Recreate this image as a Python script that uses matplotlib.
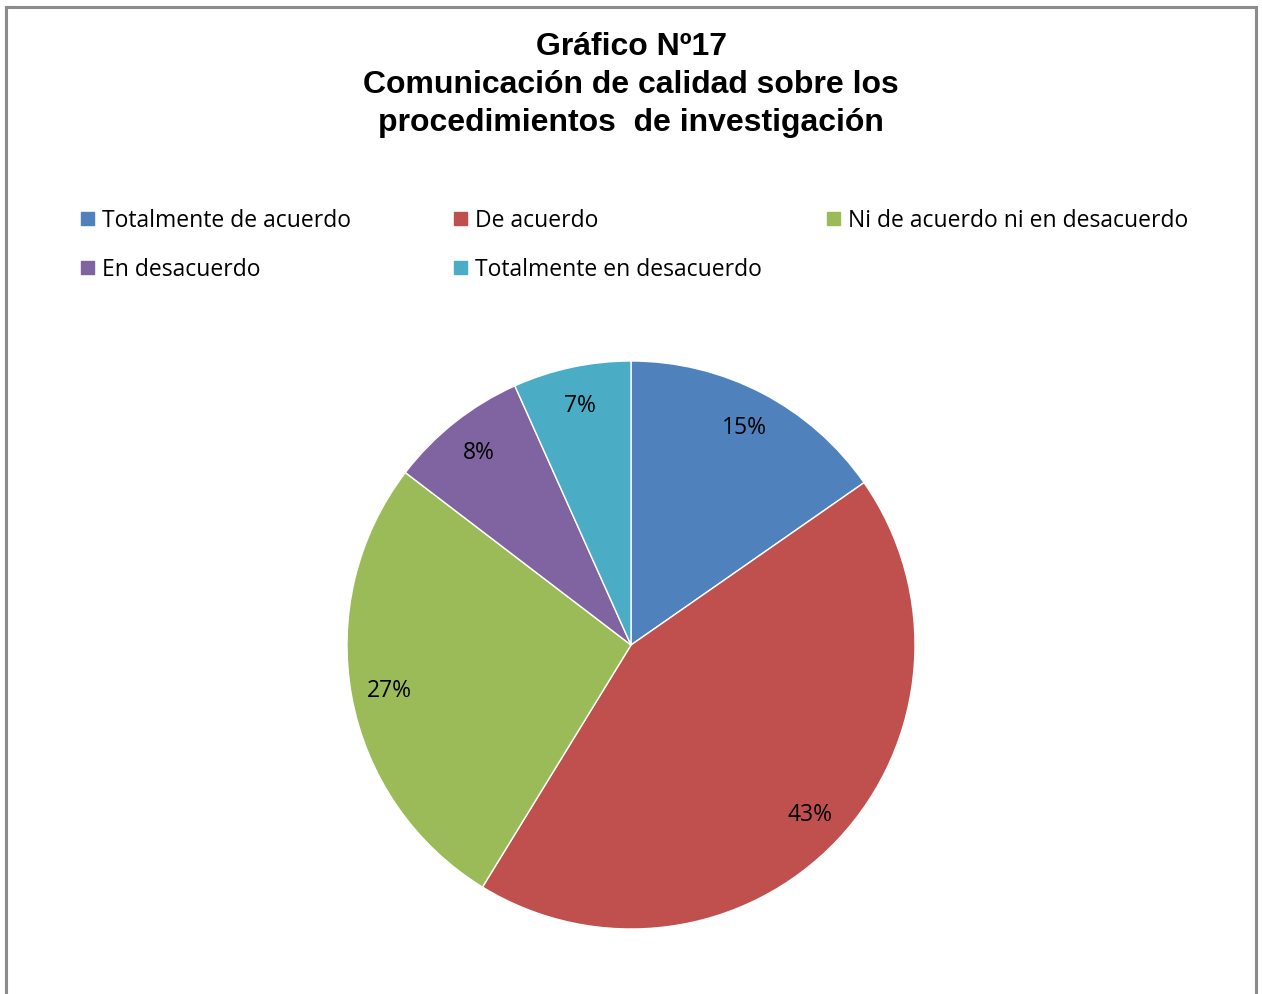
import matplotlib.pyplot as plt
from matplotlib.patches import Rectangle
from matplotlib.lines import Line2D

categories = ['Totalmente de acuerdo', 'De acuerdo', 'Ni de acuerdo ni en desacuerdo',
              'En desacuerdo', 'Totalmente en desacuerdo']
# shares (labels show them rounded)
values = [15.3, 43.4, 26.6, 7.9, 6.7]
colors = ['#4F81BD', '#C0504D', '#9BBB59', '#8064A2', '#4BACC6']
title = 'Gráfico Nº17\nComunicación de calidad sobre los\nprocedimientos  de investigación'

W, H = 1262, 995
fig = plt.figure(figsize=(W / 100, H / 100), dpi=100)

# frame (no bottom edge visible)
for xs, ys in [([6, 6], [0, 987]), ([6, 1256], [987, 987]), ([1256, 1256], [0, 987])]:
    fig.add_artist(Line2D([x / W for x in xs], [y / H for y in ys], color='#8c8c8c', lw=2.2,
                          transform=fig.transFigure))

fig.text(631 / W, 1 - 85 / H, title, ha='center', va='center', fontsize=23,
         fontweight='bold', family='Liberation Sans', linespacing=1.33)

# pie
cx, cy, r = 631, 646, 284
ax = fig.add_axes([(cx - r) / W, (H - cy - r) / H, 2 * r / W, 2 * r / H])
wedges, texts, autotexts = ax.pie(values, colors=colors, startangle=90, counterclock=False,
                                  autopct='%.0f%%', pctdistance=0.865,
                                  wedgeprops=dict(edgecolor='white', linewidth=1),
                                  textprops=dict(fontsize=16.5, family='Open Sans', color='black'))
ax.set_xlim(-1, 1)
ax.set_ylim(-1, 1)
ax.set_aspect('auto')
ax.axis('off')

# legend, row by row
for i, (lab, col) in enumerate(zip(categories, colors)):
    row, c = divmod(i, 3)
    x0 = 81 + c * 373
    y0 = 219 + row * 49
    fig.add_artist(Rectangle((x0 / W, (H - y0 - 6.5) / H), 13 / W, 13 / H, color=col,
                             transform=fig.transFigure))
    fig.text((x0 + 21) / W, 1 - (y0 + 2) / H, lab, ha='left', va='center', fontsize=16.5,
             family='Open Sans')

fig.savefig('out.png', dpi=100)
